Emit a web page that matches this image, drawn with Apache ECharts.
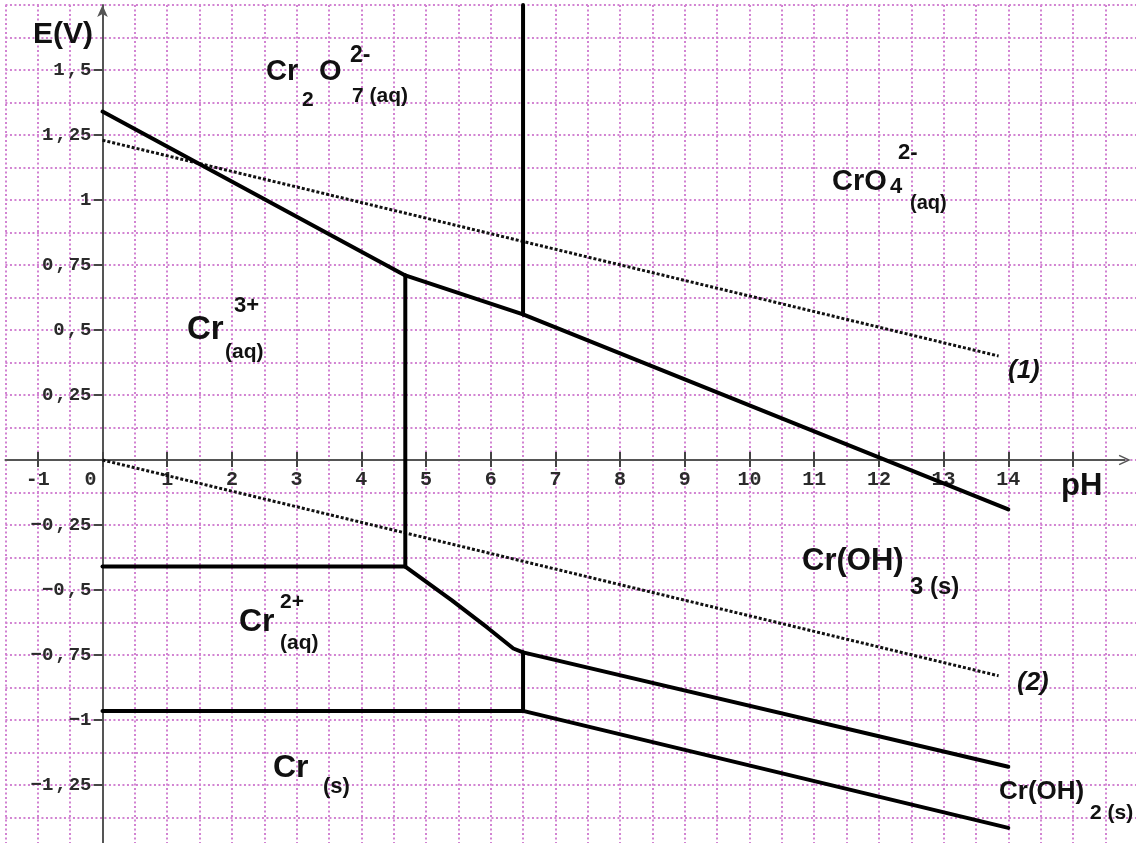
<!DOCTYPE html>
<html>
<head>
<meta charset="utf-8">
<title>Diagramme E-pH du chrome</title>
<script src="https://cdn.jsdelivr.net/npm/echarts@6/dist/echarts.min.js"></script>
<style>
    html, body { margin: 0; padding: 0; background: #fff; }
    #main { width: 1136px; height: 843px; }
</style>
</head>
<body>
<div id="main"></div>
<script>
    // ticks / labels
    var phTicks = [-1, 0, 1, 2, 3, 4, 5, 6, 7, 8, 9, 10, 11, 12, 13, 14, 15];
    var phLabels = [-1, 0, 1, 2, 3, 4, 5, 6, 7, 8, 9, 10, 11, 12, 13, 14];
    var eTicks = [-1.25, -1, -0.75, -0.5, -0.25, 0.25, 0.5, 0.75, 1, 1.25, 1.5];

    // frontieres [pH, E(V)]
    var cr2o7Cr3 = [[0, 1.34], [4.68, 0.71]];
    var cr2o7CrOH3 = [[4.68, 0.71], [6.5, 0.56]];
    var cr2o7CrO4 = [[6.5, 0.56], [6.5, 1.75]];
    var cro4CrOH3 = [[6.5, 0.56], [14, -0.19]];
    var cr3CrOH3 = [[4.68, 0.71], [4.68, -0.41]];
    var cr3Cr2 = [[0, -0.41], [4.68, -0.41]];
    var cr2CrOH3 = [[4.68, -0.41], [5.4, -0.54], [5.95, -0.645], [6.35, -0.725], [6.5, -0.74]];
    var cr2CrOH2 = [[6.5, -0.74], [6.5, -0.965]];
    var cr2Cr = [[0, -0.965], [6.5, -0.965]];
    var crOH3CrOH2 = [[6.5, -0.74], [14, -1.18]];
    var crOH2Cr = [[6.5, -0.965], [14, -1.415]];
    // droites de l'eau (1) et (2)
    var water1 = [[0, 1.23], [13.85, 0.40]];
    var water2 = [[0, 0], [13.85, -0.83]];

    var pxPerPh = 64.7, pxPerV = 260;
    var x0 = 102.5, y0 = 460;          // origine (pH 0, E 0) en pixels
    var gridLeft = x0 - 1.5 * pxPerPh;
    var gridTop = y0 - 1.75 * pxPerV;

    var monoFont = '"Liberation Mono", "DejaVu Sans Mono", monospace';
    var sansFont = '"Liberation Sans", Arial, sans-serif';

    function eLabel(v) {
        if (v === 0) return '';
        var parts = String(Math.abs(v)).split('.');
        var s = (v < 0 ? '\u2212' : '') + parts[0];
        if (parts[1]) s += '{c|,}' + parts[1];
        return s;
    }

    function border(data) {
        return {
            type: 'line', xAxisIndex: 0, yAxisIndex: 0, data: data,
            symbol: 'none', silent: true, z: 5,
            lineStyle: { color: '#000', width: 4, cap: 'round', join: 'round' }
        };
    }
    function waterLine(data) {
        return {
            type: 'line', xAxisIndex: 0, yAxisIndex: 0, data: data,
            symbol: 'none', silent: true, z: 4,
            lineStyle: { color: '#111', width: 3, type: [3, 2] }
        };
    }
    function txt(s, x, y, size, italic) {
        return {
            type: 'text', x: x, y: y, z: 100,
            style: {
                text: s, fill: '#111', align: 'left', verticalAlign: 'middle',
                font: (italic ? 'italic ' : '') + 'bold ' + size + 'px ' + sansFont
            }
        };
    }
    function hidden(type, min, max, idx) {
        return { gridIndex: idx, type: type, min: min, max: max, show: false };
    }

    var gridLine = { show: true, lineStyle: { color: '#d283d2', width: 2, type: [2, 2.5] } };
    var axisColor = '#555';
    var tickStyle = { color: '#444', width: 2 };

    var chart = echarts.init(document.getElementById('main'));
    chart.setOption({
        animation: false,
        backgroundColor: '#fff',
        grid: [
            // quadrillage + courbes
            { left: gridLeft, top: gridTop, width: 17.5 * pxPerPh, height: 3.25 * pxPerV, outerBoundsMode: 'none' },
            // axe des pH (graduations vers le bas + libelles)
            { left: gridLeft, top: gridTop, width: 17.3 * pxPerPh, height: 1.75 * pxPerV, outerBoundsMode: 'none' },
            // axe des pH (graduations vers le haut)
            { left: gridLeft, top: y0, width: 17.3 * pxPerPh, height: 1.5 * pxPerV, outerBoundsMode: 'none' },
            // axe E(V)
            { left: x0, top: gridTop, width: 15.8 * pxPerPh, height: 3.25 * pxPerV, outerBoundsMode: 'none' }
        ],
        xAxis: [
            {
                gridIndex: 0, type: 'value', min: -1.5, max: 16, interval: 0.5,
                axisLine: { show: false }, axisTick: { show: false }, axisLabel: { show: false },
                splitLine: gridLine
            },
            {
                gridIndex: 1, type: 'value', min: -1.5, max: 15.8, position: 'bottom',
                axisLine: {
                    lineStyle: { color: axisColor, width: 2 },
                    symbol: ['none', 'path://M0,17L8,0L16,17L14,18L8,5L2,18Z'], symbolSize: [15, 12]
                },
                axisTick: { customValues: phTicks, length: 7, lineStyle: tickStyle },
                axisLabel: {
                    customValues: phLabels, margin: 10, color: '#2b2b2b',
                    fontFamily: monoFont, fontWeight: 'bold', fontSize: 20,
                    formatter: function (v) { return v === 0 ? '0  ' : String(v); }
                },
                splitLine: { show: false }
            },
            {
                gridIndex: 2, type: 'value', min: -1.5, max: 15.8, position: 'top',
                axisLine: { show: false },
                axisTick: { customValues: phTicks, length: 8, lineStyle: tickStyle },
                axisLabel: { show: false },
                splitLine: { show: false }
            },
            hidden('value', 0, 15.8, 3)
        ],
        yAxis: [
            {
                gridIndex: 0, type: 'value', min: -1.5, max: 1.75, interval: 0.125,
                axisLine: { show: false }, axisTick: { show: false }, axisLabel: { show: false },
                splitLine: gridLine
            },
            hidden('value', 0, 1.75, 1),
            hidden('value', -1.5, 0, 2),
            {
                gridIndex: 3, type: 'value', min: -1.5, max: 1.75, position: 'left',
                axisLine: {
                    lineStyle: { color: axisColor, width: 2 },
                    symbol: ['none', 'arrow'], symbolSize: [8, 12]
                },
                axisTick: { customValues: eTicks, length: 9, lineStyle: tickStyle },
                axisLabel: {
                    customValues: eTicks, margin: 11, color: '#2b2b2b',
                    fontFamily: monoFont, fontWeight: 'bold', fontSize: 19,
                    formatter: eLabel,
                    rich: {
                        c: { fontFamily: monoFont, fontWeight: 'bold', fontSize: 19, color: '#2b2b2b', padding: [0, 2, 0, 2] }
                    }
                },
                splitLine: { show: false }
            }
        ],
        series: [
            waterLine(water1),
            waterLine(water2),
            border(cr2o7Cr3),
            border(cr2o7CrOH3),
            border(cr2o7CrO4),
            border(cro4CrOH3),
            border(cr3CrOH3),
            border(cr3Cr2),
            border(cr2CrOH3),
            border(cr2CrOH2),
            border(cr2Cr),
            border(crOH3CrOH2),
            border(crOH2Cr)
        ],
        graphic: [
            txt('E(V)', 33, 35, 30),
            txt('pH', 1061, 486, 31),
            // Cr2O7 2- (aq)
            txt('Cr', 266, 72, 29),
            txt('2', 302, 100, 21),
            txt('O', 319, 72, 29),
            txt('2-', 350, 56, 23),
            txt('7 (aq)', 352, 96, 21),
            // CrO4 2- (aq)
            txt('CrO', 832, 182, 29),
            txt('4', 890, 187, 22),
            txt('2-', 898, 153, 22),
            txt('(aq)', 910, 203, 20),
            // Cr3+ (aq)
            txt('Cr', 187, 330, 33),
            txt('3+', 234, 306, 22),
            txt('(aq)', 225, 352, 21),
            // Cr2+ (aq)
            txt('Cr', 239, 622, 32),
            txt('2+', 280, 602, 21),
            txt('(aq)', 280, 643, 21),
            // Cr(OH)3 (s)
            txt('Cr(OH)', 802, 561, 31),
            txt('3 (s)', 910, 587, 24),
            // Cr (s)
            txt('Cr', 273, 768, 32),
            txt('(s)', 323, 787, 22),
            // Cr(OH)2 (s)
            txt('Cr(OH)', 999, 792, 26),
            txt('2 (s)', 1090, 813, 21),
            // droites (1) et (2)
            txt('(1)', 1008, 371, 26, true),
            txt('(2)', 1017, 683, 26, true)
        ]
    });
</script>
</body>
</html>
